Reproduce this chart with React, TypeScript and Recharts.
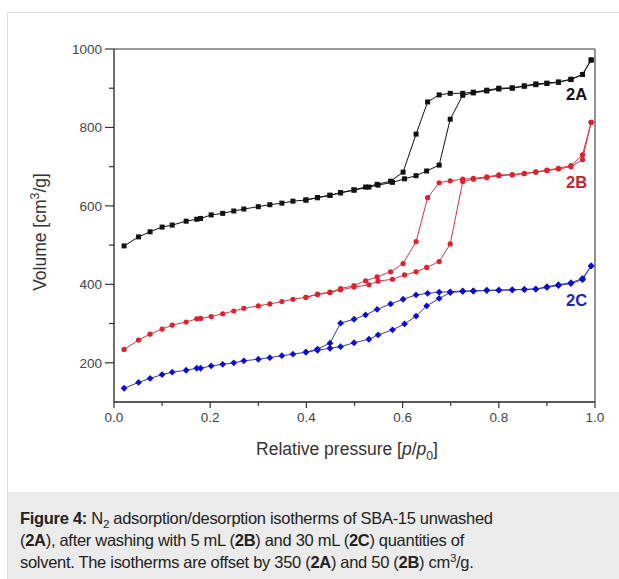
import React from 'react';
import { LineChart, Line, XAxis, YAxis, ReferenceLine } from 'recharts';

// relative pressures (p/p0) of the measuring program
const pAds = [0.021, 0.051, 0.075, 0.1, 0.121, 0.15, 0.172, 0.18, 0.202, 0.226, 0.249, 0.27, 0.3, 0.324, 0.349, 0.372, 0.399, 0.423, 0.449, 0.471, 0.499, 0.53, 0.549, 0.579, 0.604, 0.628, 0.65, 0.676, 0.699, 0.725, 0.747, 0.775, 0.8, 0.828, 0.853, 0.877, 0.9, 0.924, 0.95, 0.974, 0.992];
const pDes = [0.992, 0.974, 0.95, 0.924, 0.9, 0.877, 0.853, 0.828, 0.8, 0.775, 0.747, 0.725, 0.699, 0.676, 0.652, 0.628, 0.601, 0.575, 0.547, 0.523, 0.499, 0.471, 0.449, 0.423, 0.399];

// volumes [cm3/g], 2A offset by 350, 2B by 50
const ads2A = [498, 521, 534, 546, 551, 561, 566, 568, 577, 581, 587, 592, 598, 603, 607, 612, 615, 621, 627, 633, 640, 648, 653, 660, 669, 677, 689, 704, 821, 882, 888, 893, 898, 900, 905, 909, 912, 915, 922, 935, 972];
const des2A = [972, 935, 923, 916, 913, 911, 906, 901, 900, 895, 890, 887, 887, 883, 865, 783, 686, 663, 655, 648, 641, 634, 627, 621, 615];

const ads2B = [234, 258, 273, 286, 296, 304, 312, 313, 318, 325, 332, 339, 345, 350, 356, 362, 367, 374, 379, 386, 393, 399, 408, 413, 424, 432, 443, 458, 503, 662, 668, 672, 677, 679, 682, 686, 690, 694, 700, 718, 813];
const des2B = [813, 730, 703, 696, 691, 687, 683, 680, 679, 674, 670, 668, 664, 659, 621, 509, 453, 432, 419, 409, 397, 389, 380, 375, 367];

const ads2C = [135, 150, 160, 170, 176, 181, 186, 186, 192, 196, 200, 205, 209, 213, 218, 222, 227, 232, 237, 241, 251, 260, 271, 284, 299, 319, 345, 364, 379, 382, 383, 384, 385, 386, 387, 388, 392, 397, 402, 412, 447];
const des2C = [447, 415, 404, 399, 394, 388, 387, 386, 385, 385, 383, 383, 381, 380, 377, 373, 362, 350, 336, 322, 311, 301, 250, 235, 227];

const xTicks = [0, 0.1, 0.2, 0.3, 0.4, 0.5, 0.6, 0.7, 0.8, 0.9, 1.0];
const yTicks = [200, 300, 400, 500, 600, 700, 800, 900, 1000];

const FONT = '"Liberation Sans", Arial, sans-serif';

const toPoints = (ps: number[], vs: number[]) => ps.map((p, i) => ({ p, v: vs[i] }));

const squareDot = (color: string) => (props: any) => (
  <rect key={props.index} x={props.cx - 2.5} y={props.cy - 2.5} width={5} height={5} fill={color} />
);
const circleDot = (color: string) => (props: any) => (
  <circle key={props.index} cx={props.cx} cy={props.cy} r={2.6} fill={color} />
);
const diamondDot = (color: string) => (props: any) => {
  const { cx, cy } = props;
  return <path key={props.index} d={`M${cx},${cy - 3.4}L${cx + 3.4},${cy}L${cx},${cy + 3.4}L${cx - 3.4},${cy}Z`} fill={color} />;
};

const YTick = ({ x, y, payload }: any) => {
  const major = payload.value % 200 === 0;
  return (
    <g>
      <line x1={x - (major ? 9 : 5)} x2={x} y1={y} y2={y} stroke="#333" strokeWidth={1.2} />
      {major && (
        <text x={x - 12} y={y} dy={5} textAnchor="end" fontSize={13.5} fontFamily={FONT} fill="#444">
          {payload.value}
        </text>
      )}
    </g>
  );
};

const XTick = ({ x, y, payload }: any) => {
  const major = Math.round(payload.value * 10) % 2 === 0;
  return (
    <g>
      <line x1={x} x2={x} y1={y} y2={y + (major ? 6 : 4)} stroke="#333" strokeWidth={1.2} />
      {major && (
        <text x={x} y={y + 20} textAnchor="middle" fontSize={13.5} fontFamily={FONT} fill="#444">
          {payload.value.toFixed(1)}
        </text>
      )}
    </g>
  );
};

const series = [
  { id: '2A', ads: ads2A, des: des2A, line: '#111', mark: '#111', dot: squareDot },
  { id: '2B', ads: ads2B, des: des2B, line: '#cc3c44', mark: '#e0202c', dot: circleDot },
  { id: '2C', ads: ads2C, des: des2C, line: '#3a3aa8', mark: '#0c0cd4', dot: diamondDot },
];

const supStyle: React.CSSProperties = { fontSize: '0.7em', lineHeight: 0, verticalAlign: 'super' };
const subStyle: React.CSSProperties = { fontSize: '0.7em', lineHeight: 0, verticalAlign: 'sub' };

const App = () => {
  return (
    <div style={{ position: 'absolute', left: 0, top: 0, width: 619, height: 579, overflow: 'hidden', background: '#fff', fontFamily: FONT }}>
      <div style={{ position: 'absolute', left: 7, top: 12, width: 700, height: 700, border: '1px solid #dcdcdc' }} />
      <div style={{ position: 'absolute', left: 8, top: 492, width: 700, height: 100, background: '#ebebeb' }} />

      <div style={{ position: 'absolute', left: 0, top: 0, width: 604, height: 490, overflow: 'hidden' }}>
        <LineChart width={619} height={490} margin={{ top: 49, right: 24, bottom: 58, left: 0 }}>
          <XAxis
            type="number"
            dataKey="p"
            domain={[0, 1]}
            ticks={xTicks}
            interval={0}
            height={30}
            tickSize={0}
            tickMargin={0}
            tickLine={false}
            tick={<XTick />}
            axisLine={{ stroke: '#222', strokeWidth: 1.3 }}
            allowDataOverflow
          />
          <YAxis
            type="number"
            dataKey="v"
            domain={[100, 1000]}
            ticks={yTicks}
            interval={0}
            width={114}
            tickSize={0}
            tickMargin={0}
            tickLine={false}
            tick={<YTick />}
            axisLine={{ stroke: '#222', strokeWidth: 1.3 }}
            allowDataOverflow
          />
          <ReferenceLine y={1000} stroke="#777" strokeWidth={1.5} />
          <ReferenceLine x={1} stroke="#555" strokeWidth={1.3} />
          {series.map((s) => [
            <Line
              key={s.id + '-ads'}
              data={toPoints(pAds, s.ads)}
              dataKey="v"
              type="linear"
              stroke={s.line}
              strokeWidth={1}
              dot={s.dot(s.mark)}
              activeDot={false}
              isAnimationActive={false}
            />,
            <Line
              key={s.id + '-des'}
              data={toPoints(pDes, s.des)}
              dataKey="v"
              type="linear"
              stroke={s.line}
              strokeWidth={1}
              dot={s.dot(s.mark)}
              activeDot={false}
              isAnimationActive={false}
            />,
          ])}
        </LineChart>
      </div>

      {/* series labels */}
      <div style={{ position: 'absolute', left: 566, top: 85, fontSize: 16.5, fontWeight: 'bold', color: '#111', lineHeight: '18px' }}>2A</div>
      <div style={{ position: 'absolute', left: 566, top: 173, fontSize: 16.5, fontWeight: 'bold', color: '#c0272d', lineHeight: '18px' }}>2B</div>
      <div style={{ position: 'absolute', left: 566, top: 291, fontSize: 16.5, fontWeight: 'bold', color: '#2424b0', lineHeight: '18px' }}>2C</div>

      {/* axis titles */}
      <div style={{ position: 'absolute', left: 40, top: 232, transform: 'translate(-50%, -50%) rotate(-90deg)', whiteSpace: 'nowrap', fontSize: 17.5, color: '#333', lineHeight: '20px' }}>
        Volume [cm<span style={supStyle}>3</span>/g]
      </div>
      <div style={{ position: 'absolute', left: 347, top: 449, transform: 'translate(-50%, -50%)', whiteSpace: 'nowrap', fontSize: 17.5, color: '#333', lineHeight: '20px' }}>
        Relative pressure [<i>p</i>/<i>p</i><span style={subStyle}>0</span>]
      </div>

      {/* caption */}
      <div style={{ position: 'absolute', left: 20, top: 507, fontSize: 16.5, letterSpacing: -0.3, lineHeight: '22px', color: '#222', whiteSpace: 'nowrap' }}>
        <b>Figure 4:</b> N<span style={subStyle}>2</span> adsorption/desorption isotherms of SBA-15 unwashed
        <br />
        (<b>2A</b>), after washing with 5 mL (<b>2B</b>) and 30 mL (<b>2C</b>) quantities of
        <br />
        solvent. The isotherms are offset by 350 (<b>2A</b>) and 50 (<b>2B</b>) cm<span style={supStyle}>3</span>/g.
      </div>
    </div>
  );
};

export default App;
